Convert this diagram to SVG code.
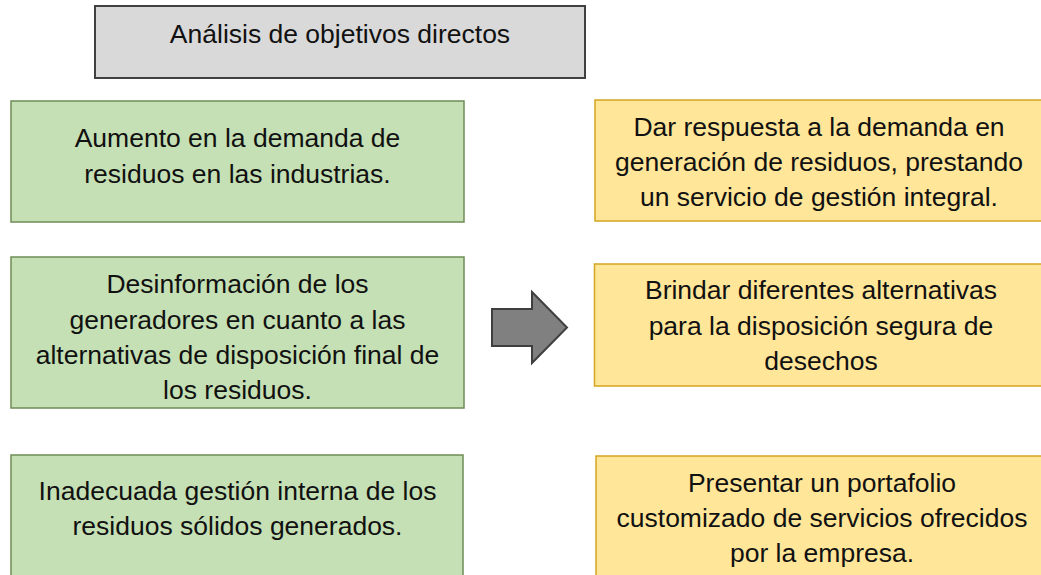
<svg xmlns="http://www.w3.org/2000/svg" width="1041" height="575" viewBox="0 0 1041 575">
<style>
  .t { font-family: "Liberation Sans", Arial, sans-serif; font-size: 26.5px; fill: #111; text-anchor: middle; }
  .g { fill: #C5E0B4; stroke: #6F8D57; stroke-width: 1.5; }
  .y { fill: #FFE699; stroke: #D4A520; stroke-width: 1.5; }
  .h { fill: #D9D9D9; stroke: #404040; stroke-width: 2; }
</style>
<rect width="1041" height="575" fill="#ffffff"/>
<g id="title">
  <rect class="h" x="95" y="6" width="490" height="72"/>
  <text class="t" x="340" y="43">Análisis de objetivos directos</text>
</g>
<g id="g1">
  <rect class="g" x="11" y="101" width="453" height="121"/>
  <text class="t" x="237.5" y="147">Aumento en la demanda de</text>
  <text class="t" x="237.5" y="183">residuos en las industrias.</text>
</g>
<g id="g2">
  <rect class="g" x="11" y="257" width="453" height="151"/>
  <text class="t" x="237.5" y="293">Desinformación de los</text>
  <text class="t" x="237.5" y="329">generadores en cuanto a las</text>
  <text class="t" x="237.5" y="364">alternativas de disposición final de</text>
  <text class="t" x="237.5" y="399">los residuos.</text>
</g>
<g id="g3">
  <rect class="g" x="11" y="455" width="452" height="130"/>
  <text class="t" x="237.5" y="500">Inadecuada gestión interna de los</text>
  <text class="t" x="237.5" y="535">residuos sólidos generados.</text>
</g>
<g id="y1">
  <rect class="y" x="595" y="100" width="450" height="121"/>
  <text class="t" x="819" y="136">Dar respuesta a la demanda en</text>
  <text class="t" x="819" y="171">generación de residuos, prestando</text>
  <text class="t" x="819" y="206">un servicio de gestión integral.</text>
</g>
<g id="y2">
  <rect class="y" x="594.5" y="264" width="450" height="122"/>
  <text class="t" x="821" y="299">Brindar diferentes alternativas</text>
  <text class="t" x="821" y="335">para la disposición segura de</text>
  <text class="t" x="821" y="370">desechos</text>
</g>
<g id="y3">
  <rect class="y" x="596" y="456" width="450" height="130"/>
  <text class="t" x="822" y="492">Presentar un portafolio</text>
  <text class="t" x="822" y="527">customizado de servicios ofrecidos</text>
  <text class="t" x="822" y="562">por la empresa.</text>
</g>
<g id="connectors">
  <path d="M492,309 L532,309 L532,292 L567,327.5 L532,363 L532,346 L492,346 Z" fill="#808080" stroke="#3F3F3F" stroke-width="2" stroke-linejoin="miter"/>
</g>
</svg>
